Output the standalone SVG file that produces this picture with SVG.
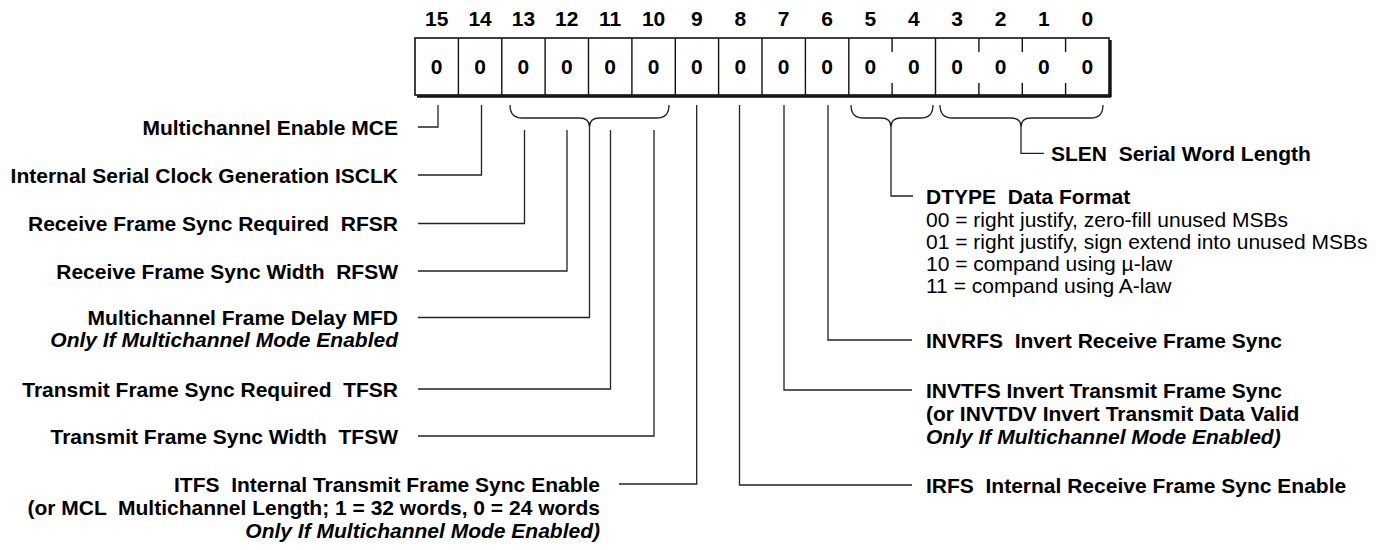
<svg xmlns="http://www.w3.org/2000/svg" width="1376" height="550" viewBox="0 0 1376 550">
<style>
text{font-family:"Liberation Sans",Arial,sans-serif;fill:#000;white-space:pre}
.b{font-weight:bold;font-size:21px}
.bi{font-weight:bold;font-style:italic;font-size:21px}
.r{font-size:21px}
.hd{font-weight:bold;font-size:21px;text-anchor:middle}
.L{text-anchor:end}
.ln{fill:none;stroke:#222;stroke-width:1.3}
.bx{fill:#fff;stroke:#111;stroke-width:1.6}
.dv{stroke:#111;stroke-width:1.4}
</style>
<rect width="1376" height="550" fill="#fff"/>
<g id="register">
<line x1="417" y1="96.5" x2="1111" y2="96.5" stroke="#111" stroke-width="2.6"/>
<line x1="1110.5" y1="40" x2="1110.5" y2="97" stroke="#111" stroke-width="2.4"/>
<rect class="bx" x="415" y="38" width="694" height="57"/>
<g class="dv">
<line x1="458.4" y1="38" x2="458.4" y2="95"/>
<line x1="501.8" y1="38" x2="501.8" y2="95"/>
<line x1="545.1" y1="38" x2="545.1" y2="95"/>
<line x1="588.5" y1="38" x2="588.5" y2="95"/>
<line x1="631.9" y1="38" x2="631.9" y2="95"/>
<line x1="675.3" y1="38" x2="675.3" y2="95"/>
<line x1="718.6" y1="38" x2="718.6" y2="95"/>
<line x1="762" y1="38" x2="762" y2="95"/>
<line x1="805.4" y1="38" x2="805.4" y2="95"/>
<line x1="848.8" y1="38" x2="848.8" y2="95"/>
<line x1="935.5" y1="38" x2="935.5" y2="95"/>
<path d="M892.1 38v14M892.1 83v12M978.9 38v14M978.9 83v12M1022.3 38v14M1022.3 83v12M1065.6 38v14M1065.6 83v12"/>
</g>
<g class="hd">
<text x="436.7" y="26">15</text><text x="480.1" y="26">14</text><text x="523.4" y="26">13</text><text x="566.8" y="26">12</text>
<text x="610.2" y="26">11</text><text x="653.6" y="26">10</text><text x="696.9" y="26">9</text><text x="740.3" y="26">8</text>
<text x="783.7" y="26">7</text><text x="827.1" y="26">6</text><text x="870.4" y="26">5</text><text x="913.8" y="26">4</text>
<text x="957.2" y="26">3</text><text x="1000.6" y="26">2</text><text x="1043.9" y="26">1</text><text x="1087.3" y="26">0</text>
</g>
<g class="hd">
<text x="436.7" y="74">0</text><text x="480.1" y="74">0</text><text x="523.4" y="74">0</text><text x="566.8" y="74">0</text>
<text x="610.2" y="74">0</text><text x="653.6" y="74">0</text><text x="696.9" y="74">0</text><text x="740.3" y="74">0</text>
<text x="783.7" y="74">0</text><text x="827.1" y="74">0</text><text x="870.4" y="74">0</text><text x="913.8" y="74">0</text>
<text x="957.2" y="74">0</text><text x="1000.6" y="74">0</text><text x="1043.9" y="74">0</text><text x="1087.3" y="74">0</text>
</g>
</g>
<g id="connectors" class="ln">
<path d="M438 105V127H418"/>
<path d="M481.5 105V175H418"/>
<path d="M510 105Q510 118 522 118H579.5Q589.5 118 589.5 127Q589.5 118 599.5 118H657Q669 118 669 105"/>
<path d="M851 105Q851 118 863 118H881Q891 118 891 127Q891 118 901 118H921Q933 118 933 105"/>
<path d="M940 105Q940 118 952 118H1011Q1021 118 1021 127Q1021 118 1031 118H1091Q1103 118 1103 105"/>
<path d="M524.5 130V223.5H418"/>
<path d="M567 130V271H418"/>
<path d="M589.5 127V317.5H418"/>
<path d="M610.5 130V389H418"/>
<path d="M654 130V436H418"/>
<path d="M696.7 105V484H619"/>
<path d="M739.5 105V485H912"/>
<path d="M784 105V390H912"/>
<path d="M828 105V340H912"/>
<path d="M891 127V196H913"/>
<path d="M1021 127V153.3H1044"/>
</g>
<g id="label-mce"><text class="b L" x="398" y="134.5">Multichannel Enable MCE</text></g>
<g id="label-isclk"><text class="b L" x="398" y="182.5">Internal Serial Clock Generation ISCLK</text></g>
<g id="label-rfsr"><text class="b L" x="398" y="231">Receive Frame Sync Required  RFSR</text></g>
<g id="label-rfsw"><text class="b L" x="398" y="278.5">Receive Frame Sync Width  RFSW</text></g>
<g id="label-mfd"><text class="b L" x="398" y="325">Multichannel Frame Delay MFD</text><text class="bi L" x="398" y="347">Only If Multichannel Mode Enabled</text></g>
<g id="label-tfsr"><text class="b L" x="398" y="396.5">Transmit Frame Sync Required  TFSR</text></g>
<g id="label-tfsw"><text class="b L" x="398" y="443.5">Transmit Frame Sync Width  TFSW</text></g>
<g id="label-itfs"><text class="b L" x="600" y="491.5">ITFS  Internal Transmit Frame Sync Enable</text><text class="b L" x="600" y="514.5">(or MCL  Multichannel Length; 1 = 32 words, 0 = 24 words</text><text class="bi L" x="600" y="537.5">Only If Multichannel Mode Enabled)</text></g>
<g id="label-slen"><text class="b" x="1051" y="161">SLEN  Serial Word Length</text></g>
<g id="label-dtype"><text class="b" x="926" y="203.5">DTYPE  Data Format</text>
<text class="r" x="926" y="227">00 = right justify, zero-fill unused MSBs</text>
<text class="r" x="926" y="249">01 = right justify, sign extend into unused MSBs</text>
<text class="r" x="926" y="271">10 = compand using µ-law</text>
<text class="r" x="926" y="293">11 = compand using A-law</text></g>
<g id="label-invrfs"><text class="b" x="926" y="347.5">INVRFS  Invert Receive Frame Sync</text></g>
<g id="label-invtfs"><text class="b" x="926" y="397.5">INVTFS Invert Transmit Frame Sync</text><text class="b" x="926" y="420.5">(or INVTDV Invert Transmit Data Valid</text><text class="bi" x="926" y="443.5">Only If Multichannel Mode Enabled)</text></g>
<g id="label-irfs"><text class="b" x="926" y="492.5">IRFS  Internal Receive Frame Sync Enable</text></g>
</svg>
